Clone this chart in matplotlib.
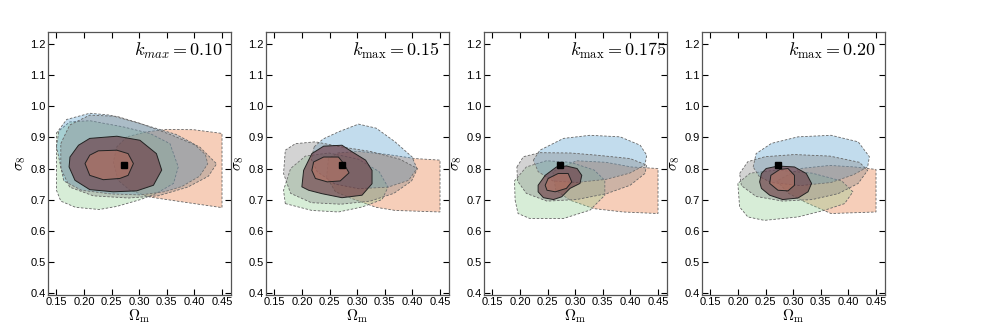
import matplotlib
matplotlib.use("Agg")
import matplotlib.pyplot as plt

plt.rcParams["font.family"] = ["Liberation Sans", "DejaVu Sans"]
plt.rcParams["mathtext.fontset"] = "cm"

K_LABELS = [r"$k_{max} = 0.10$", r"$k_{\rm max} = 0.15$",
            r"$k_{\rm max} = 0.175$", r"$k_{\rm max} = 0.20$"]
FIDUCIAL = (0.273, 0.812)
X_TICKS = [0.15, 0.20, 0.25, 0.30, 0.35, 0.40, 0.45]
Y_TICKS = [0.4, 0.5, 0.6, 0.7, 0.8, 0.9, 1.0, 1.1, 1.2]

# contour outlines (Omega_m, sigma_8)
orange_010 = [(0.2776, 0.902), (0.2594, 0.87), (0.2530, 0.821), (0.2616, 0.762), (0.2830, 0.73),
              (0.3193, 0.708), (0.3878, 0.69), (0.45, 0.674), (0.45, 0.913), (0.3985, 0.925),
              (0.3493, 0.926), (0.3129, 0.918)]
green_010 = [(0.15, 0.915), (0.1739, 0.950), (0.2103, 0.954), (0.2712, 0.934), (0.3193, 0.913),
             (0.3557, 0.88), (0.3707, 0.805), (0.3621, 0.752), (0.3311, 0.72), (0.3022, 0.70),
             (0.2594, 0.678), (0.2274, 0.668), (0.1846, 0.675), (0.1578, 0.695), (0.15, 0.73)]
blue_010 = [(0.15, 0.87), (0.1546, 0.925), (0.1685, 0.958), (0.2103, 0.978), (0.2466, 0.972),
            (0.2894, 0.951), (0.3311, 0.929), (0.3664, 0.91), (0.3985, 0.88), (0.4199, 0.845),
            (0.4241, 0.815), (0.4092, 0.775), (0.3771, 0.742), (0.3450, 0.725), (0.3022, 0.715),
            (0.2488, 0.718), (0.1953, 0.73), (0.1632, 0.76)]
gray_010 = [(0.1578, 0.88), (0.1739, 0.94), (0.2103, 0.972), (0.2594, 0.968), (0.3022, 0.945),
            (0.3557, 0.91), (0.4092, 0.87), (0.4402, 0.815), (0.4252, 0.775), (0.3878, 0.74),
            (0.3343, 0.712), (0.2808, 0.705), (0.2167, 0.712), (0.1739, 0.74), (0.1578, 0.80)]
main_out_010 = [(0.1744, 0.837), (0.1899, 0.875), (0.2103, 0.897), (0.2594, 0.904), (0.3012, 0.891),
                (0.3311, 0.848), (0.3407, 0.795), (0.3257, 0.746), (0.2953, 0.728), (0.2530, 0.725),
                (0.2103, 0.732), (0.1835, 0.762), (0.1728, 0.805)]
main_in_010 = [(0.2017, 0.816), (0.2103, 0.843), (0.2258, 0.857), (0.2594, 0.859), (0.2798, 0.848),
               (0.2894, 0.816), (0.2798, 0.778), (0.2648, 0.768), (0.2348, 0.764), (0.2103, 0.778)]

orange_015 = [(0.2477, 0.832), (0.2445, 0.773), (0.2605, 0.725), (0.2905, 0.703), (0.3343, 0.675),
              (0.3685, 0.665), (0.45, 0.660), (0.45, 0.827), (0.4049, 0.832), (0.3557, 0.845),
              (0.3022, 0.855), (0.2648, 0.85)]
green_015 = [(0.1696, 0.687), (0.2177, 0.665), (0.2659, 0.660), (0.3086, 0.676), (0.3450, 0.70),
             (0.3557, 0.74), (0.3396, 0.79), (0.3022, 0.83), (0.2488, 0.85), (0.2060, 0.84),
             (0.1792, 0.80), (0.1664, 0.730)]
blue_015 = [(0.2220, 0.87), (0.2380, 0.895), (0.2659, 0.918), (0.3022, 0.943), (0.3343, 0.93),
            (0.3685, 0.886), (0.3995, 0.837), (0.4081, 0.800), (0.3931, 0.762), (0.3557, 0.74),
            (0.3022, 0.735), (0.2594, 0.75), (0.2274, 0.79), (0.2167, 0.83)]
gray_015 = [(0.1696, 0.859), (0.1878, 0.880), (0.2241, 0.886), (0.2701, 0.87), (0.3236, 0.855),
            (0.3771, 0.83), (0.4092, 0.80), (0.3985, 0.76), (0.3664, 0.72), (0.3236, 0.695),
            (0.2701, 0.685), (0.2167, 0.69), (0.1792, 0.72), (0.1664, 0.784)]
main_out_015 = [(0.1996, 0.741), (0.2028, 0.794), (0.2177, 0.848), (0.2391, 0.872), (0.2723, 0.875),
                (0.2905, 0.854), (0.3151, 0.827), (0.3268, 0.794), (0.3268, 0.751), (0.3086, 0.714),
                (0.2723, 0.706), (0.2359, 0.719), (0.2119, 0.730)]
main_in_015 = [(0.2177, 0.794), (0.2209, 0.821), (0.2391, 0.837), (0.2659, 0.837), (0.2755, 0.816),
               (0.2851, 0.786), (0.2691, 0.760), (0.2455, 0.757), (0.2241, 0.768)]

orange_0175 = [(0.2594, 0.79), (0.2648, 0.73), (0.2905, 0.698), (0.3332, 0.671), (0.3867, 0.660),
               (0.45, 0.655), (0.45, 0.800), (0.4017, 0.805), (0.3557, 0.82), (0.3022, 0.825)]
green_0175 = [(0.1910, 0.698), (0.1963, 0.655), (0.2177, 0.639), (0.2787, 0.639), (0.3268, 0.666),
              (0.3536, 0.714), (0.3536, 0.762), (0.3343, 0.795), (0.2915, 0.82), (0.2477, 0.825),
              (0.2113, 0.805), (0.1899, 0.76)]
blue_0175 = [(0.2241, 0.827), (0.2359, 0.859), (0.2787, 0.897), (0.3268, 0.907), (0.3814, 0.902),
             (0.4177, 0.875), (0.4295, 0.843), (0.4263, 0.811), (0.3985, 0.785), (0.3557, 0.765),
             (0.3022, 0.755), (0.2594, 0.76), (0.2327, 0.79)]
gray_0175 = [(0.1942, 0.805), (0.2060, 0.838), (0.2359, 0.851), (0.2915, 0.85), (0.3386, 0.843),
             (0.3995, 0.832), (0.4295, 0.811), (0.4263, 0.784), (0.3995, 0.746), (0.3568, 0.719),
             (0.3022, 0.70), (0.2488, 0.695), (0.2113, 0.72), (0.1953, 0.76)]
main_out_0175 = [(0.2327, 0.746), (0.2327, 0.725), (0.2423, 0.706), (0.2605, 0.700), (0.2755, 0.709),
                 (0.2905, 0.736), (0.3086, 0.752), (0.3118, 0.778), (0.3033, 0.800), (0.2840, 0.808),
                 (0.2659, 0.805), (0.2455, 0.778)]
main_in_0175 = [(0.2455, 0.746), (0.2509, 0.768), (0.2691, 0.784), (0.2872, 0.784), (0.2937, 0.757),
                (0.2840, 0.736), (0.2637, 0.725), (0.2488, 0.730)]

orange_020 = [(0.2701, 0.76), (0.2915, 0.72), (0.3236, 0.69), (0.3685, 0.655), (0.45, 0.660),
              (0.45, 0.797), (0.4113, 0.805), (0.3664, 0.81), (0.3129, 0.80)]
green_020 = [(0.1996, 0.752), (0.2028, 0.676), (0.2177, 0.644), (0.2477, 0.633), (0.3086, 0.644),
             (0.3557, 0.665), (0.3931, 0.687), (0.4081, 0.725), (0.3878, 0.76), (0.3343, 0.785),
             (0.2701, 0.795), (0.2220, 0.785)]
blue_020 = [(0.2274, 0.805), (0.2327, 0.848), (0.2605, 0.881), (0.3086, 0.902), (0.3685, 0.907),
            (0.4177, 0.886), (0.4380, 0.838), (0.4348, 0.805), (0.4092, 0.78), (0.3685, 0.755),
            (0.3129, 0.745), (0.2594, 0.755), (0.2380, 0.775)]
gray_020 = [(0.2028, 0.784), (0.2177, 0.822), (0.2488, 0.838), (0.3022, 0.845), (0.3664, 0.84),
            (0.4199, 0.82), (0.4348, 0.794), (0.4177, 0.752), (0.3814, 0.719), (0.3343, 0.70),
            (0.2808, 0.695), (0.2327, 0.71), (0.2060, 0.745)]
main_out_020 = [(0.2391, 0.757), (0.2423, 0.784), (0.2509, 0.800), (0.2723, 0.808), (0.3022, 0.805),
                (0.3236, 0.784), (0.3332, 0.752), (0.3268, 0.725), (0.3086, 0.705), (0.2808, 0.700),
                (0.2573, 0.714), (0.2423, 0.736)]
main_in_020 = [(0.2573, 0.752), (0.2594, 0.778), (0.2755, 0.797), (0.2905, 0.800), (0.3022, 0.778),
               (0.3022, 0.746), (0.2905, 0.728), (0.2723, 0.730)]

PANELS = [
    (orange_010, green_010, blue_010, gray_010, main_out_010, main_in_010),
    (orange_015, green_015, blue_015, gray_015, main_out_015, main_in_015),
    (orange_0175, green_0175, blue_0175, gray_0175, main_out_0175, main_in_0175),
    (orange_020, green_020, blue_020, gray_020, main_out_020, main_in_020),
]

FILL_COLORS = ["#e67537", "#8fcd8f", "#509bcd", "#828282"]


def draw_region(ax, pts, face, alpha, ls, edge, lw):
    xs = [p[0] for p in pts]
    ys = [p[1] for p in pts]
    ax.fill(xs, ys, facecolor=face, alpha=alpha, edgecolor="none")
    ax.fill(xs, ys, facecolor="none", edgecolor=edge, lw=lw, ls=ls)


fig = plt.figure(figsize=(9.81, 3.27), dpi=100)
lefts = [48, 266, 484, 702]

for i, (left, regions) in enumerate(zip(lefts, PANELS)):
    ax = fig.add_axes([left / 981, 1 - 295 / 327, 183 / 981, 263 / 327])
    for pts, col in zip(regions[:4], FILL_COLORS):
        draw_region(ax, pts, col, 0.35, (0, (3, 2)), "#666666", 0.6)
    # main case: 95% and 68% regions
    draw_region(ax, regions[4], "#66303a", 0.58, "-", "#222222", 0.7)
    draw_region(ax, regions[5], "#c47a66", 0.5, "-", "#222222", 0.7)
    ax.plot(*FIDUCIAL, marker="s", color="black", ms=4.8, ls="none")

    ax.set_xlim(0.1346, 0.4663)
    ax.set_ylim(0.3926, 1.2397)
    ax.set_xticks(X_TICKS)
    ax.set_xticklabels([f"{t:.2f}" for t in X_TICKS])
    ax.set_yticks(Y_TICKS)
    ax.set_yticklabels([f"{t:.1f}" for t in Y_TICKS])
    ax.tick_params(direction="in", top=True, right=True, length=4, width=0.8,
                   labelsize=8, pad=1.5)
    for s in ax.spines.values():
        s.set_color("#555555")
        s.set_linewidth(0.9)
    ax.set_xlabel(r"$\Omega_{\rm m}$", fontsize=11, labelpad=0)
    ax.set_ylabel(r"$\sigma_8$", fontsize=11, labelpad=2)
    ax.text(0.47, 0.965, K_LABELS[i], transform=ax.transAxes, ha="left", va="top",
            fontsize=13)

fig.savefig("out.png", dpi=100)
